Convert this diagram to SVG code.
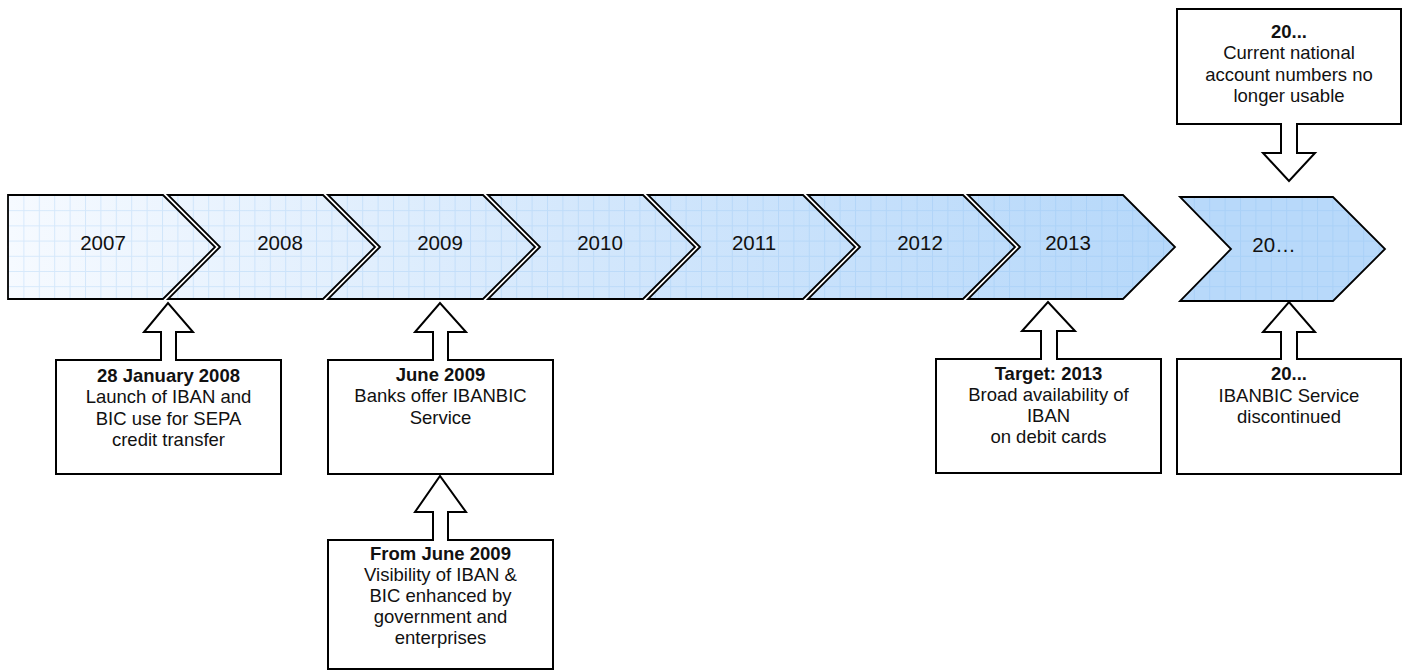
<svg xmlns="http://www.w3.org/2000/svg" width="1410" height="671" viewBox="0 0 1410 671">
<style>
  .bg { fill: url(#band); }
  .grid { fill: url(#gridp); stroke: #000; stroke-width: 1.8; stroke-linejoin: miter; }
  .last { fill: #b8d9fa; }
  .year { font-family: "Liberation Sans", Arial, sans-serif; font-size: 20.5px; fill: #111; text-anchor: middle; }
  .box { fill: #fff; stroke: #000; stroke-width: 2; }
  .txt { font-family: "Liberation Sans", Arial, sans-serif; font-size: 18.5px; fill: #111; text-anchor: middle; }
  .b { font-weight: bold; }
  .arrow { fill: #fff; stroke: #000; stroke-width: 2; stroke-linejoin: miter; }
</style>
<defs>
  <linearGradient id="band" gradientUnits="userSpaceOnUse" x1="8" y1="0" x2="1175" y2="0">
    <stop offset="0" stop-color="#f6faff"/>
    <stop offset="0.5" stop-color="#d3e7fc"/>
    <stop offset="1" stop-color="#b6d8fa"/>
  </linearGradient>
  <pattern id="gridp" patternUnits="userSpaceOnUse" x="8" y="195" width="15.4" height="15.2">
    <path d="M0.5,0 V15.2 M0,0.5 H15.4" fill="none" stroke="#7ab6f0" stroke-opacity="0.25" stroke-width="1"/>
  </pattern>
</defs>
<rect width="1410" height="671" fill="#fff"/>

<g id="chevron-2007">
  <path class="bg" d="M8,195 H163 L215,247 L163,299 H8 Z"/>
  <path class="grid" d="M8,195 H163 L215,247 L163,299 H8 Z"/>
  <text class="year" x="103" y="250">2007</text>
</g>
<g id="chevron-2008">
  <path class="bg" d="M168,195 H323 L375,247 L323,299 H168 L220,247 Z"/>
  <path class="grid" d="M168,195 H323 L375,247 L323,299 H168 L220,247 Z"/>
  <text class="year" x="280" y="250">2008</text>
</g>
<g id="chevron-2009">
  <path class="bg" d="M328,195 H483 L535,247 L483,299 H328 L380,247 Z"/>
  <path class="grid" d="M328,195 H483 L535,247 L483,299 H328 L380,247 Z"/>
  <text class="year" x="440" y="250">2009</text>
</g>
<g id="chevron-2010">
  <path class="bg" d="M488,195 H643 L695,247 L643,299 H488 L540,247 Z"/>
  <path class="grid" d="M488,195 H643 L695,247 L643,299 H488 L540,247 Z"/>
  <text class="year" x="600" y="250">2010</text>
</g>
<g id="chevron-2011">
  <path class="bg" d="M648,195 H803 L855,247 L803,299 H648 L700,247 Z"/>
  <path class="grid" d="M648,195 H803 L855,247 L803,299 H648 L700,247 Z"/>
  <text class="year" x="754" y="250">2011</text>
</g>
<g id="chevron-2012">
  <path class="bg" d="M808,195 H963 L1015,247 L963,299 H808 L860,247 Z"/>
  <path class="grid" d="M808,195 H963 L1015,247 L963,299 H808 L860,247 Z"/>
  <text class="year" x="920" y="250">2012</text>
</g>
<g id="chevron-2013">
  <path class="bg" d="M968,195 H1123 L1175,247 L1123,299 H968 L1020,247 Z"/>
  <path class="grid" d="M968,195 H1123 L1175,247 L1123,299 H968 L1020,247 Z"/>
  <text class="year" x="1068" y="250">2013</text>
</g>
<g id="chevron-20xx">
  <path class="last" d="M1180,197 H1333 L1385,249 L1333,301 H1180 L1231,249 Z"/>
  <path class="grid" d="M1180,197 H1333 L1385,249 L1333,301 H1180 L1231,249 Z"/>
  <text class="year" x="1274" y="252">20…</text>
</g>

<g id="note-jan2008">
  <rect class="box" x="56" y="360" width="225" height="114"/>
  <text class="txt" x="168.5" y="382"><tspan class="b">28 January 2008</tspan><tspan x="168.5" dy="21.3">Launch of IBAN and</tspan><tspan x="168.5" dy="21.3">BIC use for SEPA</tspan><tspan x="168.5" dy="21.3">credit transfer</tspan></text>
</g>
<g id="note-jun2009">
  <rect class="box" x="328" y="360" width="225" height="114"/>
  <text class="txt" x="440.5" y="381"><tspan class="b">June 2009</tspan><tspan x="440.5" dy="21.3">Banks offer IBANBIC</tspan><tspan x="440.5" dy="21.3">Service</tspan></text>
</g>
<g id="note-from-jun2009">
  <rect class="box" x="328" y="540" width="225" height="129"/>
  <text class="txt" x="440.5" y="560"><tspan class="b">From June 2009</tspan><tspan x="440.5" dy="21">Visibility of IBAN &amp;</tspan><tspan x="440.5" dy="21">BIC enhanced by</tspan><tspan x="440.5" dy="21">government and</tspan><tspan x="440.5" dy="21">enterprises</tspan></text>
</g>
<g id="note-target2013">
  <rect class="box" x="936" y="359" width="225" height="114"/>
  <text class="txt" x="1048.5" y="380"><tspan class="b">Target: 2013</tspan><tspan x="1048.5" dy="21">Broad availability of</tspan><tspan x="1048.5" dy="21">IBAN</tspan><tspan x="1048.5" dy="21">on debit cards</tspan></text>
</g>
<g id="note-discontinued">
  <rect class="box" x="1177" y="359" width="224" height="115"/>
  <text class="txt" x="1289" y="380"><tspan class="b">20...</tspan><tspan x="1289" dy="21.5">IBANBIC Service</tspan><tspan x="1289" dy="21.5">discontinued</tspan></text>
</g>
<g id="note-national">
  <rect class="box" x="1177" y="9" width="224" height="115"/>
  <text class="txt" x="1289" y="38"><tspan class="b">20...</tspan><tspan x="1289" dy="21.3">Current national</tspan><tspan x="1289" dy="21.3">account numbers no</tspan><tspan x="1289" dy="21.3">longer usable</tspan></text>
</g>

<g id="connectors">
  <path class="arrow" d="M161,361 V332 H144 L168,303 L193,332 H176 V361"/>
  <path class="arrow" d="M433,361 V332 H415 L440,303 L466,332 H448 V361"/>
  <path class="arrow" d="M433,541 V512 H415 L440,476 L466,512 H448 V541"/>
  <path class="arrow" d="M1041,360 V331 H1022 L1048,302 L1075,331 H1057 V360"/>
  <path class="arrow" d="M1281,360 V332 H1263 L1289,302 L1315,332 H1297 V360"/>
  <path class="arrow" d="M1281,123 V153 H1263 L1289,181 L1315,153 H1297 V123"/>
</g>
</svg>
